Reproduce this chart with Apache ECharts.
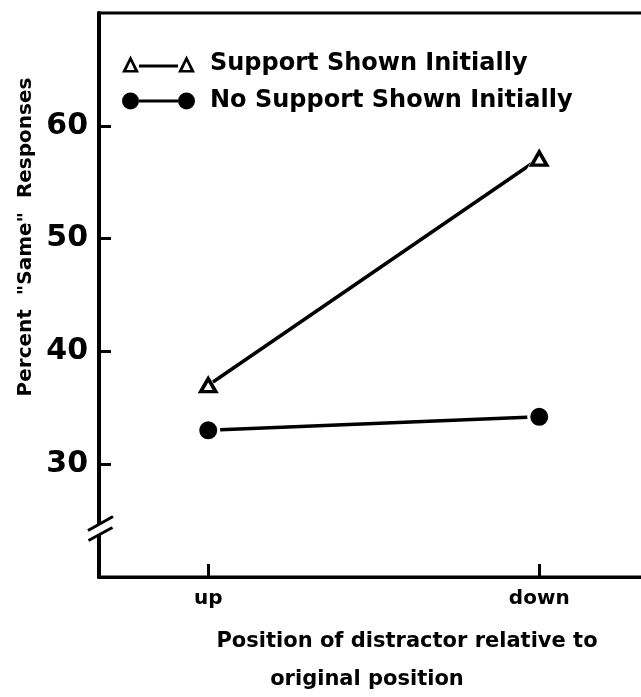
<!DOCTYPE html>
<html>
<head>
<meta charset="utf-8">
<script src="https://cdn.jsdelivr.net/npm/echarts@6/dist/echarts.min.js"></script>
<style>
html,body{margin:0;padding:0;background:#fff;}
#c{width:641px;height:697px;}
</style>
</head>
<body>
<div id="c"></div>
<script>
// ---- data ----
var categories = ['up', 'down'];
var supportShown = [37.0, 57.1];
var noSupportShown = [33.0, 34.2];
var yTickValues = [30, 40, 50, 60];
var seriesNames = ['Support Shown Initially', 'No Support Shown Initially'];
var breakValue = 24.3;

var FONT = 'DejaVu Sans';
var chart = echarts.init(document.getElementById('c'), null, {renderer: 'canvas'});

function pts(vals) { return categories.map(function (c, i) { return [i, vals[i]]; }); }

var triIcon = 'path://M0,17L8.5,0L17,17Z M4.5,14.5L12.5,14.5L8.5,6Z M17,9L56,9L56,12L17,12Z M56,17L64.5,0L73,17Z M60.5,14.5L68.5,14.5L64.5,6Z';
var dotIcon = 'path://M0,8.5A8.5,8.5,0,1,1,17,8.5A8.5,8.5,0,1,1,0,8.5Z M17,7L56,7L56,10L17,10Z M56,8.5A8.5,8.5,0,1,1,73,8.5A8.5,8.5,0,1,1,56,8.5Z';

var nameFont = {fontFamily: FONT, fontWeight: 'bold', fontSize: 21, color: '#000', lineHeight: 38};

var option = {
  backgroundColor: '#fff',
  animation: false,
  grid: {left: 99, top: 13, width: 662, height: 564, show: true, borderColor: '#000', borderWidth: 3,
    backgroundColor: 'transparent', outerBoundsMode: 'none', containLabel: false},
  legend: {
    orient: 'vertical', left: 117, top: 47, itemWidth: 73, itemHeight: 17, itemGap: 13,
    itemStyle: {color: '#000', borderWidth: 0},
    textStyle: {fontFamily: FONT, fontWeight: 'bold', fontSize: 24, color: '#000', lineHeight: 24, padding: [0, 0, 0, 10]},
    data: [{name: seriesNames[0], icon: triIcon}, {name: seriesNames[1], icon: dotIcon}],
    selectedMode: false
  },
  xAxis: {
    type: 'value', min: -0.33, max: 1.67,
    name: '{a|Position of distractor relative to}\n{b|original position}',
    nameLocation: 'middle', nameGap: 46,
    nameTextStyle: {fontFamily: FONT, fontWeight: 'bold', fontSize: 21, color: '#000', lineHeight: 38, padding: [0, 46, 0, 0],
      rich: {a: nameFont, b: Object.assign({padding: [0, 80, 0, 0]}, nameFont)}},
    splitLine: {show: false},
    axisLine: {onZero: false, lineStyle: {color: '#000', width: 3}},
    axisTick: {inside: true, length: 13, lineStyle: {color: '#000', width: 3}, customValues: [0, 1]},
    axisLabel: {customValues: [0, 1], margin: 12, fontFamily: FONT, fontWeight: 'bold', fontSize: 20, color: '#000',
      formatter: function (v) { return categories[Math.round(v)]; }}
  },
  yAxis: {
    type: 'value', min: 20, max: 70, interval: 10,
    name: 'Percent  "Same"  Responses',
    nameLocation: 'middle', nameGap: 49,
    nameTextStyle: {fontFamily: FONT, fontWeight: 'bold', fontSize: 20, color: '#000', padding: [0, 0, 0, 116]},
    splitLine: {show: false},
    axisLine: {onZero: false, lineStyle: {color: '#000', width: 4}},
    axisTick: {inside: true, length: 12, lineStyle: {color: '#000', width: 3}, customValues: yTickValues},
    axisLabel: {customValues: yTickValues, margin: 11, fontFamily: FONT, fontWeight: 'bold', fontSize: 30, color: '#000'}
  },
  series: [
    {name: seriesNames[0], type: 'line', data: pts(supportShown), symbol: 'none', z: 2,
      lineStyle: {color: '#000', width: 3.5}, itemStyle: {color: '#000'}},
    {name: seriesNames[1], type: 'line', data: pts(noSupportShown), symbol: 'none', z: 2,
      lineStyle: {color: '#000', width: 3.5}, itemStyle: {color: '#000'}},
    {type: 'scatter', data: pts(supportShown), symbol: 'triangle', symbolSize: [26, 24], z: 3, silent: true,
      itemStyle: {color: '#fff', opacity: 1}},
    {type: 'scatter', data: pts(supportShown), symbol: 'triangle', symbolSize: [15, 13], z: 4, silent: true,
      itemStyle: {color: '#fff', borderColor: '#000', borderWidth: 3.5, opacity: 1}},
    {type: 'scatter', data: pts(noSupportShown), symbol: 'circle', symbolSize: 21, z: 4, silent: true,
      itemStyle: {color: '#000', borderColor: '#fff', borderWidth: 3, opacity: 1}}
  ]
};
chart.setOption(option);

// axis break mark on the y axis
var bp = chart.convertToPixel({yAxisIndex: 0}, breakValue);
var ax = chart.convertToPixel({xAxisIndex: 0}, -0.33);
var cx = ax + 1.5, cy = bp;
chart.setOption({
  graphic: [
    {type: 'polygon', z: 100, shape: {points: [[cx - 12.5, cy + 2], [cx + 12.5, cy - 12], [cx + 12, cy - 1], [cx - 12, cy + 12]]},
      style: {fill: '#fff'}},
    {type: 'line', z: 101, shape: {x1: cx - 12.5, y1: cy + 2, x2: cx + 12.5, y2: cy - 12}, style: {stroke: '#000', lineWidth: 3}},
    {type: 'line', z: 101, shape: {x1: cx - 12, y1: cy + 12, x2: cx + 12, y2: cy - 1}, style: {stroke: '#000', lineWidth: 3}}
  ]
});
</script>
</body>
</html>
